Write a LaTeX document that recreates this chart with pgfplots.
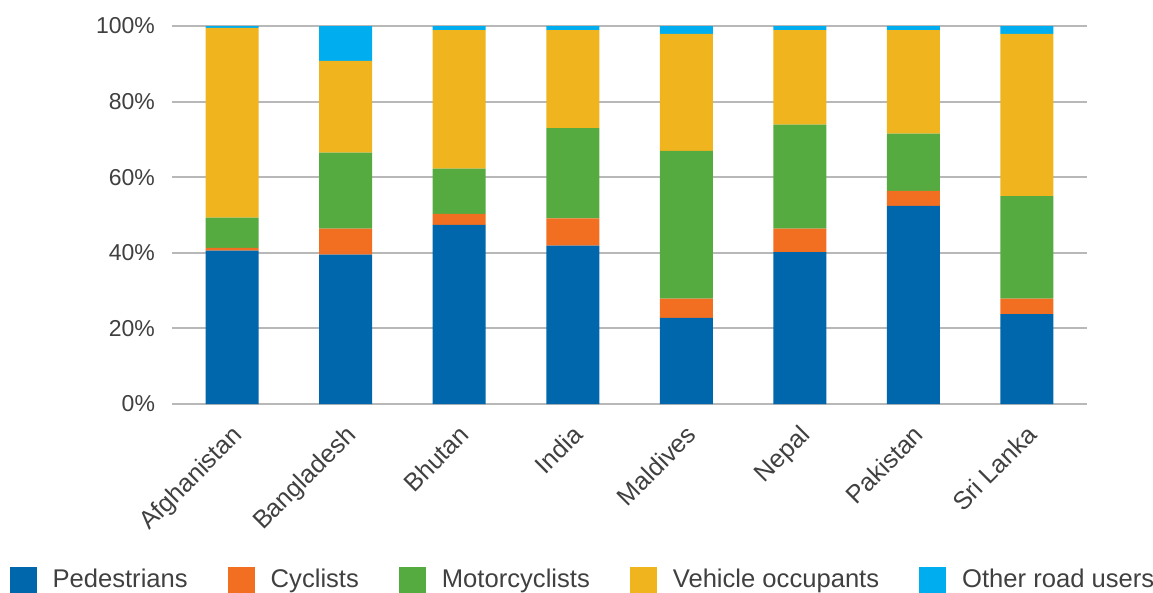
\documentclass[border=0pt]{standalone}
\usepackage{pgfplots}
\pgfplotsset{compat=1.18}
\usepackage{pgfplotstable}
\usepackage{fontspec}
\setmainfont{Liberation Sans}

\definecolor{cPed}{HTML}{0067AC}
\definecolor{cCyc}{HTML}{F26E21}
\definecolor{cMot}{HTML}{56AB40}
\definecolor{cVeh}{HTML}{F0B41E}
\definecolor{cOth}{HTML}{00ADEE}
\definecolor{txt}{HTML}{404040}

% share of road deaths by road user type, per country (percent)
\pgfplotstableread{
x ped  cyc  mot  veh  oth
0 40.6 0.7  8.0  50.2 0.5
1 39.5 6.9  20.1 24.3 9.2
2 47.4 2.9  12.0 36.6 1.1
3 41.9 7.2  23.9 25.9 1.1
4 22.8 5.1  39.1 30.9 2.1
5 40.2 6.2  27.5 25.0 1.1
6 52.4 4.0  15.1 27.4 1.1
7 23.8 4.1  27.1 42.9 2.1
}\deaths

\begin{document}
\begin{tikzpicture}
\begin{axis}[
    scale only axis,
    width=457.5pt, height=189pt,
    ybar stacked, bar width=26.5pt,
    xmin=-0.53, xmax=7.53, ymin=0, ymax=100,
    axis line style={draw=none},
    major tick length=0pt,
    ytick={0,20,40,60,80,100},
    yticklabel={\pgfmathprintnumber{\tick}\%},
    /pgf/number format/assume math mode=true,
    yticklabel style={font=\fontsize{11.5}{13}\selectfont, text=txt, xshift=-5pt},
    ymajorgrids, major grid style={draw=black!28, line width=1pt},
    xtick=data,
    xticklabels={Afghanistan,Bangladesh,Bhutan,India,Maldives,Nepal,Pakistan,Sri Lanka},
    xticklabel style={font=\fontsize{12.6}{14}\selectfont, text=txt, rotate=45,
        anchor=north east, xshift=-4pt, yshift=-3pt},
    legend columns=5,
    legend style={draw=none, fill=none, inner sep=0pt,
        at={(rel axis cs:-0.178,-0.466)}, anchor=west,
        font=\fontsize{12.8}{15}\selectfont, text=txt,
        column sep=8pt,
        nodes={inner sep=0pt},
        /tikz/every even column/.append style={column sep=20pt}},
    legend image code/.code={\fill[#1,draw=none] (0pt,-6.5pt) rectangle (13.5pt,6.5pt);},
    legend cell align=left,
]
\addplot[fill=cPed, draw=none] table[x=x, y=ped] {\deaths};
\addplot[fill=cCyc, draw=none] table[x=x, y=cyc] {\deaths};
\addplot[fill=cMot, draw=none] table[x=x, y=mot] {\deaths};
\addplot[fill=cVeh, draw=none] table[x=x, y=veh] {\deaths};
\addplot[fill=cOth, draw=none] table[x=x, y=oth] {\deaths};
\legend{Pedestrians, Cyclists, Motorcyclists, Vehicle occupants, Other road users}
\coordinate (bbl) at (rel axis cs:-0.188,-0.4974);
\coordinate (btr) at (rel axis cs:1.0721,1.0688);
\end{axis}
\pgfresetboundingbox
\path[use as bounding box] (bbl) rectangle (btr);
\end{tikzpicture}
\end{document}
